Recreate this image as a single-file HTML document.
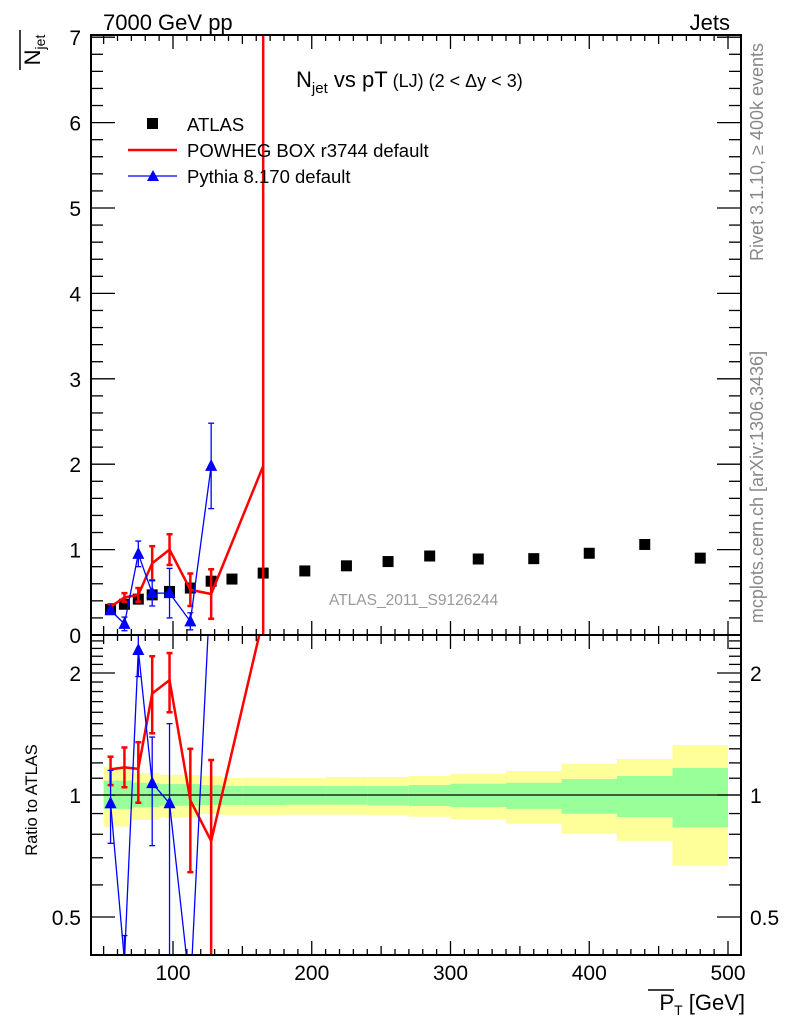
<!DOCTYPE html>
<html><head><meta charset="utf-8"><style>
html,body{margin:0;padding:0;background:#fff;width:786px;height:1024px;overflow:hidden}
svg{display:block;font-family:"Liberation Sans",sans-serif}
</style></head><body>
<svg id="chart" width="786" height="1024" viewBox="0 0 786 1024" xmlns="http://www.w3.org/2000/svg">
<defs>
<clipPath id="cTop"><rect x="91" y="35" width="650" height="600"/></clipPath>
<clipPath id="cRat"><rect x="91" y="635" width="650" height="320"/></clipPath>
</defs>
<g id="bands" clip-path="url(#cRat)"></g>
<g id="ticks"></g>
<line x1="91" y1="795" x2="741" y2="795" stroke="#000" stroke-width="1.2"/>
<g id="topMarks" clip-path="url(#cTop)"></g>
<g id="ratMarks" clip-path="url(#cRat)"></g>
<rect x="91" y="35" width="650" height="600" fill="none" stroke="#000" stroke-width="2"/>
<rect x="91" y="635" width="650" height="320" fill="none" stroke="#000" stroke-width="2"/>
<g id="labels" font-size="21"></g>
<text x="103" y="30" font-size="22">7000 GeV pp</text>
<text x="730" y="30" font-size="22" text-anchor="end">Jets</text>
<text x="296" y="87" font-size="22">N<tspan font-size="15" dy="6">jet</tspan><tspan dy="-6"> vs pT</tspan><tspan font-size="18"> (LJ) (2 &lt; Δy &lt; 3)</tspan></text>
<g font-size="18.5">
<rect x="147" y="118" width="11" height="11" fill="#000"/>
<text x="187" y="131">ATLAS</text>
<line x1="128" y1="150" x2="177" y2="150" stroke="#f00" stroke-width="2.5"/>
<text x="187" y="157">POWHEG BOX r3744 default</text>
<line x1="128" y1="176" x2="177" y2="176" stroke="#00f" stroke-width="1.3"/>
<path d="M153,170 L159,181 L147,181 Z" fill="#00f"/>
<text x="187" y="183">Pythia 8.170 default</text>
</g>
<text x="329" y="605" font-size="15.5" fill="#999">ATLAS_2011_S9126244</text>
<text transform="translate(763,152) rotate(-90)" font-size="18" fill="#888" text-anchor="middle">Rivet 3.1.10, ≥ 400k events</text>
<text transform="translate(763,487) rotate(-90)" font-size="18" fill="#888" text-anchor="middle">mcplots.cern.ch [arXiv:1306.3436]</text>
<g transform="translate(40,50) rotate(-90)">
<text x="0" y="0" font-size="22" text-anchor="middle">N<tspan font-size="14" dy="5">jet</tspan></text>
<line x1="-20" y1="-20" x2="20" y2="-20" stroke="#000" stroke-width="1.5"/>
</g>
<text transform="translate(37,800) rotate(-90)" font-size="16.5" text-anchor="middle">Ratio to ATLAS</text>
<g>
<text x="745" y="1010" font-size="22" text-anchor="end">P<tspan font-size="14" dy="5">T</tspan><tspan dy="-5"> [GeV]</tspan></text>
<line x1="648" y1="990" x2="674" y2="990" stroke="#000" stroke-width="1.5"/>
</g>
</svg>
<script>
// ---- data ----
const binEdges = [50,60,70,80,90,105,120,135,150,180,210,240,270,300,340,380,420,460,500];
const atlasX = [55,65,75,85,97.5,112.5,127.5,142.5,165,195,225,255,285,320,360,400,440,480];
const atlasY = [0.30,0.36,0.42,0.47,0.51,0.55,0.63,0.655,0.725,0.75,0.81,0.86,0.925,0.89,0.894,0.957,1.06,0.90];
const powhegX = [55,65,75,85,97.5,112.5,127.5,165];
const powhegY = [0.33,0.44,0.47,0.84,1.0,0.53,0.48,1.98];
const powhegErr = [0.03,0.05,0.08,0.2,0.18,0.19,0.29,9];
const pythiaX = [55,65,75,85,97.5,112.5,127.5];
const pythiaY = [0.29,0.13,0.95,0.49,0.49,0.16,1.98];
const pythiaErr = [0.03,0.08,0.15,0.15,0.29,0.1,0.5];
const powhegRatio = [1.157,1.17,1.16,1.78,1.92,0.97,0.77,2.73];
const powhegRatioHi = [1.243,1.31,1.35,2.2,2.24,1.30,1.22,2.73];
const powhegRatioLo = [1.058,1.045,0.957,1.42,1.6,0.645,0.2,2.73];
const pythiaRatio = [0.954,0.39,2.28,1.07,0.954,0.327,3.57];
const pythiaRatioHi = [1.15,0.45,2.7,1.39,1.5,0.35,4];
const pythiaRatioLo = [0.76,0.33,1.96,0.75,0.3,0.3,3];
const yellowHi = [1.175,1.175,1.133,1.133,1.122,1.12,1.114,1.101,1.103,1.101,1.108,1.108,1.114,1.129,1.146,1.195,1.227,1.328];
const yellowLo = [0.835,0.835,0.868,0.868,0.879,0.881,0.898,0.893,0.893,0.894,0.894,0.891,0.884,0.873,0.849,0.803,0.771,0.669];
const greenHi = [1.085,1.085,1.072,1.07,1.064,1.064,1.058,1.052,1.052,1.052,1.052,1.052,1.058,1.066,1.072,1.095,1.114,1.166];
const greenLo = [0.924,0.924,0.932,0.934,0.941,0.941,0.945,0.945,0.945,0.946,0.946,0.943,0.939,0.934,0.924,0.899,0.882,0.832];
const xTicks = [100,200,300,400,500];
const yTicks = [0,1,2,3,4,5,6,7];
const rTicks = [0.5,1,2];

// ---- axes ----
const xs = g => 173 + (g-100)*1.3875;
const yt = v => 635 - 85.4*v;
const yr = r => 795 - 122*Math.log2(r);
const NS = "http://www.w3.org/2000/svg";
function mk(parent, tag, attrs){const e=document.createElementNS(NS,tag);for(const k in attrs)e.setAttribute(k,attrs[k]);parent.appendChild(e);return e;}

// bands
const B = document.getElementById('bands');
for(let i=0;i<yellowHi.length;i++){
  const x0=xs(binEdges[i]), x1=xs(binEdges[i+1]);
  const y = mk(B,'rect',{x:x0,y:yr(yellowHi[i]),width:x1-x0,height:yr(yellowLo[i])-yr(yellowHi[i]),fill:'#ffff99'});
  
  
  const g = mk(B,'rect',{x:x0,y:yr(greenHi[i]),width:x1-x0,height:yr(greenLo[i])-yr(greenHi[i]),fill:'#99ff99'});
  
  
}

// ticks
const T = document.getElementById('ticks');
function tl(x1,y1,x2,y2){mk(T,'line',{x1,y1,x2,y2,stroke:'#000','stroke-width':1.3});}
for(let g=50; g<=500; g+=10){
  const x=xs(g); const L = g%100===0?14:(g%50===0?9:6);
  tl(x,635,x,635-L); tl(x,35,x,35+L); tl(x,955,x,955-L); tl(x,635,x,635+L);
}
for(let v=0; v<=7.001; v+=0.2){
  const y=yt(v); const L = Math.abs(v-Math.round(v))<0.01?24:12;
  tl(91,y,91+L,y); tl(741,y,741-L,y);
}
const rMinor=[0.4,0.5,0.6,0.7,0.8,0.9,1,1.1,1.2,1.3,1.4,1.5,1.6,1.7,1.8,1.9,2,2.1,2.2,2.3,2.4];
rMinor.forEach(r=>{const y=yr(r); if(y<635||y>955)return; const L=(r===0.5||r===1||r===2)?24:12; tl(91,y,91+L,y); tl(741,y,741-L,y);});

// labels
const Lb = document.getElementById('labels');
xTicks.forEach(t=>{const e=mk(Lb,'text',{x:xs(t),y:980,'text-anchor':'middle'});e.textContent=t;
  
  });
yTicks.forEach(t=>{const e=mk(Lb,'text',{x:81,y:yt(t)+8,'text-anchor':'end'});e.textContent=t;
  
  });
rTicks.forEach(t=>{const s=t===0.5?'0.5':String(t);
  const a=mk(Lb,'text',{x:81,y:yr(t)+8,'text-anchor':'end'});a.textContent=s;
  
  
  const b=mk(Lb,'text',{x:750,y:yr(t)+8});b.textContent=s;
  
  });

// series helpers
function errbar(p,x,y1,y2,col,w,cap){
  if(Math.abs(y2-y1)<0.5) return;
  mk(p,'line',{x1:x,y1:y1,x2:x,y2:y2,stroke:col,'stroke-width':w});
  mk(p,'line',{x1:x-cap,y1:y1,x2:x+cap,y2:y1,stroke:col,'stroke-width':w});
  mk(p,'line',{x1:x-cap,y1:y2,x2:x+cap,y2:y2,stroke:col,'stroke-width':w});
}
function tri(p,x,y){const e=mk(p,'path',{d:`M${x},${y-7} L${x+6},${y+5} L${x-6},${y+5} Z`,fill:'#00f'});return e;}

// top panel
const TM = document.getElementById('topMarks');
atlasX.forEach((g,i)=>{const e=mk(TM,'rect',{x:xs(g)-5.5,y:yt(atlasY[i])-5.5,width:11,height:11,fill:'#000'});
  
  });
powhegX.forEach((g,i)=>errbar(TM,xs(g),yt(powhegY[i]+powhegErr[i]),yt(powhegY[i]-powhegErr[i]),'#f00',2.5,3));
let pl = mk(TM,'polyline',{points:powhegX.map((g,i)=>xs(g)+','+yt(powhegY[i])).join(' '),fill:'none',stroke:'#f00','stroke-width':2.5});


pythiaX.forEach((g,i)=>errbar(TM,xs(g),yt(pythiaY[i]+pythiaErr[i]),yt(pythiaY[i]-pythiaErr[i]),'#00f',1.3,3));
let bl = mk(TM,'polyline',{points:pythiaX.map((g,i)=>xs(g)+','+yt(pythiaY[i])).join(' '),fill:'none',stroke:'#00f','stroke-width':1.3});


pythiaX.forEach((g,i)=>{const e=tri(TM,xs(g),yt(pythiaY[i]));
  
  });

// ratio panel
const RM = document.getElementById('ratMarks');
powhegX.forEach((g,i)=>errbar(RM,xs(g),yr(powhegRatioHi[i]),yr(powhegRatioLo[i]),'#f00',2.5,3));
let pr = mk(RM,'polyline',{points:powhegX.map((g,i)=>xs(g)+','+yr(powhegRatio[i])).join(' '),fill:'none',stroke:'#f00','stroke-width':2.5});


pythiaX.forEach((g,i)=>errbar(RM,xs(g),yr(pythiaRatioHi[i]),yr(pythiaRatioLo[i]),'#00f',1.3,3));
let br = mk(RM,'polyline',{points:pythiaX.map((g,i)=>xs(g)+','+yr(pythiaRatio[i])).join(' '),fill:'none',stroke:'#00f','stroke-width':1.3});


pythiaX.forEach((g,i)=>{const e=tri(RM,xs(g),yr(pythiaRatio[i]));
  
  });
</script>
</body></html>
